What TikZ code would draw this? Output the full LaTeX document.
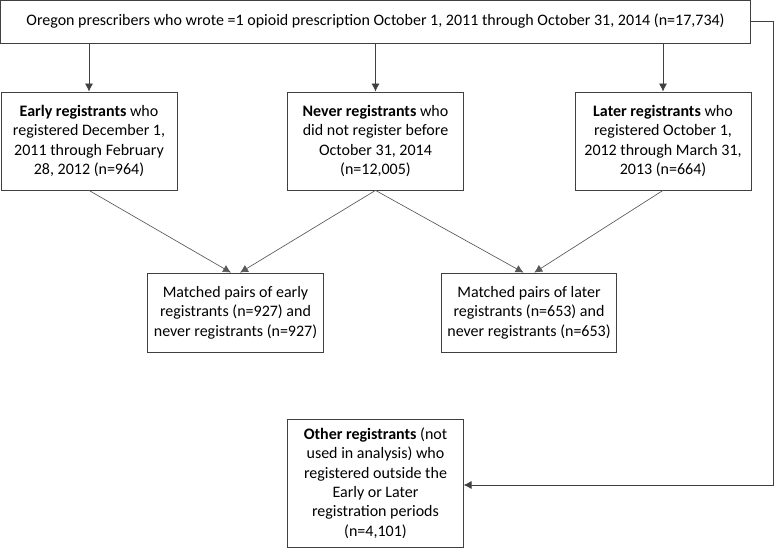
\documentclass[tikz,border=0pt]{standalone}
\usepackage{fontspec}
\setmainfont{Carlito}
\usetikzlibrary{arrows.meta}

\tikzset{
  box/.style={draw=black!75, line width=0.6pt, align=center, inner xsep=2pt,
    font=\fontsize{12}{14.6}\selectfont},
  wide/.style={box, minimum width=132pt, minimum height=73.5pt},
  pair/.style={box, minimum width=131.5pt, minimum height=59.25pt},
  link/.style={draw=black!75, line width=0.6pt, -{Latex[length=6pt,width=6pt]}},
  thin link/.style={draw=black!65, line width=0.5pt, -{Latex[length=6pt,width=6pt]}}
}

\begin{document}
\begin{tikzpicture}[x=0.75pt, y=-0.75pt]

\useasboundingbox (0, 0) rectangle (778, 549);

%Draw boxes
\node[box, minimum width=563pt, minimum height=32.25pt] (top) at (375.5, 21.5)
  {Oregon prescribers who wrote =1 opioid prescription October 1, 2011 through October 31, 2014 (n=17,734)};

\node[wide] (early) at (89, 141)
  {\textbf{Early registrants} who\\ registered December 1,\\ 2011 through February\\ 28, 2012 (n=964)};
\node[wide] (never) at (375.5, 141)
  {\textbf{Never registrants} who\\ did not register before\\ October 31, 2014\\ (n=12,005)};
\node[wide] (later) at (663, 141)
  {\textbf{Later registrants} who\\ registered October 1,\\ 2012 through March 31,\\ 2013 (n=664)};

\node[pair] (matchE) at (235.5, 312.5)
  {Matched pairs of early\\ registrants (n=927) and\\ never registrants (n=927)};
\node[pair] (matchL) at (529, 312.5)
  {Matched pairs of later\\ registrants (n=653) and\\ never registrants (n=653)};

\node[box, minimum width=131.5pt, minimum height=96pt] (other) at (375.5, 483)
  {\textbf{Other registrants} (not\\ used in analysis) who\\ registered outside the\\ Early or Later\\ registration periods\\ (n=4,101)};

%Draw arrows
\draw[link] (top.south -| early) -- (early.north);
\draw[link] (top.south -| never) -- (never.north);
\draw[link] (top.south -| later) -- (later.north);

\draw[thin link] (early.south) -- ([xshift=-3.4pt]matchE.north);
\draw[thin link] (never.south) -- ([xshift=3.4pt]matchE.north);
\draw[thin link] (never.south) -- ([xshift=-4.1pt]matchL.north);
\draw[thin link] (later.south) -- ([xshift=3.9pt]matchL.north);

\coordinate (bendA) at (773, 21);
\coordinate (bendB) at (773, 485);
\draw[link] (top.east |- bendA) -- (bendA) -- (bendB) -- (other.east |- bendB);

\end{tikzpicture}
\end{document}
